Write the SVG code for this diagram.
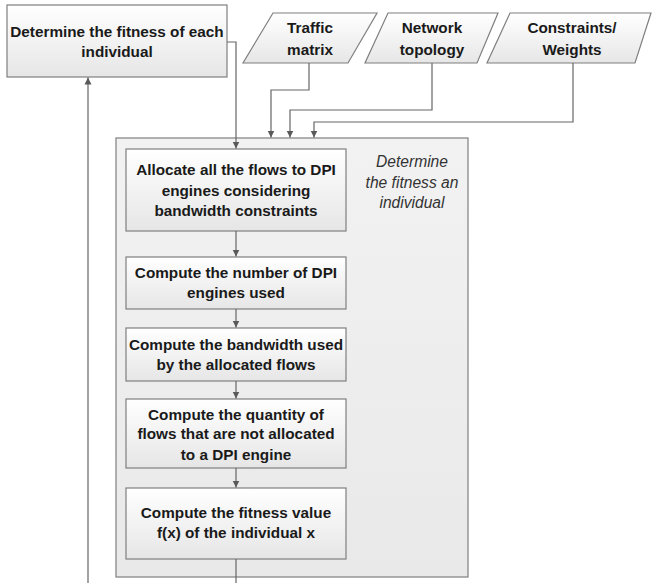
<svg xmlns="http://www.w3.org/2000/svg" width="652" height="583" viewBox="0 0 652 583">
  <defs>
    <linearGradient id="boxFill" x1="0" y1="0" x2="0" y2="1">
      <stop offset="0" stop-color="#ffffff"/>
      <stop offset="1" stop-color="#e6e6e6"/>
    </linearGradient>
    <linearGradient id="groupFill" x1="0" y1="0" x2="0" y2="1">
      <stop offset="0" stop-color="#f2f2f2"/>
      <stop offset="1" stop-color="#e9e9e9"/>
    </linearGradient>
    <marker id="arrow" markerWidth="8" markerHeight="8" refX="7" refY="4" orient="auto" markerUnits="userSpaceOnUse">
      <path d="M0,0.5 L7,4 L0,7.5 Z" fill="#595959"/>
    </marker>
  </defs>
  <style>
    .box { fill: url(#boxFill); stroke: #7f7f7f; stroke-width: 1.2; }
    .group { fill: url(#groupFill); stroke: #7f7f7f; stroke-width: 1.2; }
    .lbl { font-family: "Liberation Sans", Arial, sans-serif; font-weight: bold; font-size: 15.3px; fill: #1a1a1a; text-anchor: middle; }
    .note { font-family: "Liberation Sans", Arial, sans-serif; font-style: italic; font-size: 15.6px; fill: #333333; text-anchor: middle; }
    .conn { fill: none; stroke: #666666; stroke-width: 1.2; }
  </style>

  <rect width="652" height="583" fill="#ffffff"/>

  <!-- group frame for the fitness sub-process -->
  <g id="fitness-group">
    <rect class="group" x="116" y="138" width="352" height="439"/>
    <text class="note" x="412" y="167">Determine</text>
    <text class="note" x="412" y="188">the fitness an</text>
    <text class="note" x="412" y="208">individual</text>
  </g>

  <g id="determine-fitness">
    <rect class="box" x="7" y="5" width="220" height="72"/>
    <text class="lbl" x="117" y="37">Determine the fitness of each</text>
    <text class="lbl" x="117" y="57">individual</text>
  </g>

  <g id="traffic-matrix">
    <polygon class="box" points="273,13 377,13 348,63 243,63"/>
    <text class="lbl" x="310" y="33">Traffic</text>
    <text class="lbl" x="310" y="55">matrix</text>
  </g>

  <g id="network-topology">
    <polygon class="box" points="388,13 498,13 477,63 365,63"/>
    <text class="lbl" x="432" y="33">Network</text>
    <text class="lbl" x="432" y="55">topology</text>
  </g>

  <g id="constraints-weights">
    <polygon class="box" points="510,13 651,13 635,63 487,63"/>
    <text class="lbl" x="572" y="33">Constraints/</text>
    <text class="lbl" x="572" y="55">Weights</text>
  </g>

  <g id="allocate-flows">
    <rect class="box" x="126" y="149" width="220" height="82"/>
    <text class="lbl" x="236" y="175">Allocate all the flows to DPI</text>
    <text class="lbl" x="236" y="196">engines considering</text>
    <text class="lbl" x="236" y="216">bandwidth constraints</text>
  </g>

  <g id="count-engines">
    <rect class="box" x="126" y="257" width="220" height="52"/>
    <text class="lbl" x="236" y="278">Compute the number of DPI</text>
    <text class="lbl" x="236" y="298">engines used</text>
  </g>

  <g id="bandwidth-used">
    <rect class="box" x="126" y="328" width="220" height="53"/>
    <text class="lbl" x="236" y="350">Compute the bandwidth used</text>
    <text class="lbl" x="236" y="370">by the allocated flows</text>
  </g>

  <g id="unallocated-flows">
    <rect class="box" x="126" y="399" width="220" height="69"/>
    <text class="lbl" x="236" y="420">Compute the quantity of</text>
    <text class="lbl" x="236" y="439">flows that are not allocated</text>
    <text class="lbl" x="236" y="460">to a DPI engine</text>
  </g>

  <g id="fitness-value">
    <rect class="box" x="126" y="488" width="220" height="71"/>
    <text class="lbl" x="236" y="518">Compute the fitness value</text>
    <text class="lbl" x="236" y="538">f(x) of the individual x</text>
  </g>

  <g id="connectors">
    <polyline class="conn" points="227,42 236,42 236,148.5" marker-end="url(#arrow)"/>
    <polyline class="conn" points="309,63 309,90 271,90 271,137.5" marker-end="url(#arrow)"/>
    <polyline class="conn" points="432,63 432,110 290,110 290,137.5" marker-end="url(#arrow)"/>
    <polyline class="conn" points="573,63 573,122 314,122 314,137.5" marker-end="url(#arrow)"/>
    <line class="conn" x1="236" y1="231" x2="236" y2="256.5" marker-end="url(#arrow)"/>
    <line class="conn" x1="236" y1="309" x2="236" y2="327.5" marker-end="url(#arrow)"/>
    <line class="conn" x1="236" y1="381" x2="236" y2="398.5" marker-end="url(#arrow)"/>
    <line class="conn" x1="236" y1="468" x2="236" y2="487.5" marker-end="url(#arrow)"/>
    <line class="conn" x1="236" y1="559" x2="236" y2="583"/>
    <line class="conn" x1="88" y1="583" x2="88" y2="77.5" marker-end="url(#arrow)"/>
  </g>
</svg>
